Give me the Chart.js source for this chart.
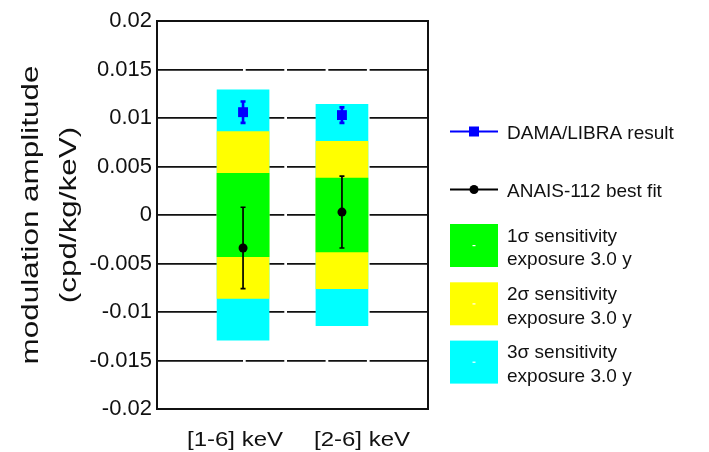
<!DOCTYPE html>
<html>
<head>
<meta charset="utf-8">
<script src="https://cdn.jsdelivr.net/npm/chart.js@4.4.1/dist/chart.umd.min.js"></script>
<style>
  html, body { margin: 0; padding: 0; background: #ffffff; }
  #wrap { width: 709px; height: 452px; }
</style>
</head>
<body>
<div id="wrap"><canvas id="chart" width="709" height="452"></canvas></div>
<script>
// Energy windows and their positions on the x scale
const categories = ['[1-6] keV', '[2-6] keV'];
const binPositions = [1, 2];

// ANAIS-112 sensitivity bands (half-widths), exposure 3.0 y
const sensitivity1 = [0.0043, 0.0038];
const sensitivity2 = [0.0086, 0.0076];
const sensitivity3 = [0.0129, 0.0114];

// ANAIS-112 best fit and its uncertainty
const anaisFit = [-0.0034, 0.0003];
const anaisErr = [0.0042, 0.0037];

// DAMA/LIBRA result and its uncertainty
const damaResult = [0.0106, 0.0103];
const damaErr = [0.0011, 0.0008];

// Vertical axis ticks
const yTicks = [0.02, 0.015, 0.01, 0.005, 0, -0.005, -0.01, -0.015, -0.02];

// Legend entries for the sensitivity bands
const bandLegend = [
  { color: '#00ff00', lines: ['1\u03c3 sensitivity', 'exposure 3.0 y'] },
  { color: '#ffff00', lines: ['2\u03c3 sensitivity', 'exposure 3.0 y'] },
  { color: '#00ffff', lines: ['3\u03c3 sensitivity', 'exposure 3.0 y'] }
];

const FONT = "'Liberation Sans', Arial, Helvetica, sans-serif";
const TEXT = '#111111';

function band(half) {
  return binPositions.map((x, i) => ({ x: x, y: [-half[i], half[i]] }));
}
function points(vals) {
  return binPositions.map((x, i) => ({ x: x, y: vals[i] }));
}

const bandStyle = { type: 'bar', grouped: false, barThickness: 52, borderWidth: 0 };

// Error bars, frame, axis title, category labels and legend
const decorations = {
  id: 'decorations',
  afterDatasetsDraw(chart) {
    const { ctx } = chart;
    const xs = chart.scales.x, ys = chart.scales.y;
    const drawErr = (vals, errs, color, width, cap) => {
      ctx.save();
      ctx.strokeStyle = color;
      ctx.lineWidth = width;
      binPositions.forEach((p, i) => {
        const x = xs.getPixelForValue(p);
        const y1 = ys.getPixelForValue(vals[i] + errs[i]);
        const y2 = ys.getPixelForValue(vals[i] - errs[i]);
        ctx.beginPath();
        ctx.moveTo(x, y1); ctx.lineTo(x, y2);
        ctx.moveTo(x - cap, y1); ctx.lineTo(x + cap, y1);
        ctx.moveTo(x - cap, y2); ctx.lineTo(x + cap, y2);
        ctx.stroke();
      });
      ctx.restore();
    };
    drawErr(anaisFit, anaisErr, '#000000', 1.7, 2.5);
    drawErr(damaResult, damaErr, '#0000ff', 2.6, 2.5);
  },
  afterDraw(chart) {
    const { ctx, chartArea: a } = chart;
    ctx.save();
    // plot frame
    ctx.strokeStyle = '#111111';
    ctx.lineWidth = 2;
    ctx.strokeRect(a.left, a.top, a.right - a.left, a.bottom - a.top);

    // vertical axis title (two lines)
    ctx.fillStyle = TEXT;
    ctx.textAlign = 'center';
    ctx.textBaseline = 'middle';
    ctx.font = '24px ' + FONT;
    const midY = (a.top + a.bottom) / 2;
    [['modulation amplitude', 31], ['(cpd/kg/keV)', 69]].forEach(([t, x]) => {
      ctx.save();
      ctx.translate(x, midY);
      ctx.rotate(-Math.PI / 2);
      ctx.scale(1.31, 1);
      ctx.fillText(t, 0, 0);
      ctx.restore();
    });

    // energy window labels
    ctx.font = '20px ' + FONT;
    ctx.textBaseline = 'alphabetic';
    const labelX = [a.left + 78, a.left + 205];
    categories.forEach((c, i) => {
      ctx.save();
      ctx.translate(labelX[i], a.bottom + 37);
      ctx.scale(1.2, 1);
      ctx.fillText(c, 0, 0);
      ctx.restore();
    });

    // legend
    const lx = a.right + 22, lw = 48, tx = a.right + 79;
    ctx.textAlign = 'left';
    ctx.font = '19px ' + FONT;
    // DAMA/LIBRA
    ctx.strokeStyle = '#0000ff'; ctx.lineWidth = 2;
    ctx.beginPath(); ctx.moveTo(lx, 131.5); ctx.lineTo(lx + lw, 131.5); ctx.stroke();
    ctx.fillStyle = '#0000ff';
    ctx.fillRect(lx + lw / 2 - 5, 126.5, 10, 10);
    ctx.fillStyle = TEXT;
    ctx.fillText('DAMA/LIBRA result', tx, 138.5);
    // ANAIS-112
    ctx.strokeStyle = '#000000';
    ctx.beginPath(); ctx.moveTo(lx, 189.5); ctx.lineTo(lx + lw, 189.5); ctx.stroke();
    ctx.fillStyle = '#000000';
    ctx.beginPath(); ctx.arc(lx + lw / 2, 189.5, 4.5, 0, Math.PI * 2); ctx.fill();
    ctx.fillStyle = TEXT;
    ctx.fillText('ANAIS-112 best fit', tx, 197);
    // bands
    bandLegend.forEach((b, i) => {
      const top = 224 + i * 58.3;
      ctx.fillStyle = b.color;
      ctx.fillRect(lx, top, lw, 43);
      ctx.fillStyle = '#ffffff';
      ctx.fillRect(lx + lw / 2 - 1.5, top + 21, 3, 1.2);
      ctx.fillStyle = TEXT;
      ctx.fillText(b.lines[0], tx, top + 17.8);
      ctx.fillText(b.lines[1], tx, top + 41.2);
    });
    ctx.restore();
  }
};

new Chart(document.getElementById('chart'), {
  type: 'bar',
  data: {
    datasets: [
      Object.assign({ label: '3\u03c3 sensitivity', data: band(sensitivity3), backgroundColor: '#00ffff', order: 5 }, bandStyle),
      Object.assign({ label: '2\u03c3 sensitivity', data: band(sensitivity2), backgroundColor: '#ffff00', order: 4 }, bandStyle),
      Object.assign({ label: '1\u03c3 sensitivity', data: band(sensitivity1), backgroundColor: '#00ff00', order: 3 }, bandStyle),
      {
        type: 'line', label: 'ANAIS-112 best fit', data: points(anaisFit), showLine: false,
        pointStyle: 'circle', pointRadius: 4.5, pointBackgroundColor: '#000000', pointBorderWidth: 0, order: 2
      },
      {
        type: 'line', label: 'DAMA/LIBRA result', data: points(damaResult), showLine: false,
        pointStyle: 'rect', pointRadius: 7, pointBackgroundColor: '#0000ff', pointBorderWidth: 0, order: 1
      }
    ]
  },
  options: {
    responsive: false,
    animation: false,
    devicePixelRatio: 1,
    layout: { padding: { left: 0, right: 281, top: 21, bottom: 43 } },
    plugins: { legend: { display: false }, tooltip: { enabled: false } },
    scales: {
      x: { type: 'linear', min: 0.13, max: 2.87, offset: false, display: false },
      y: {
        type: 'linear', min: -0.02, max: 0.02,
        afterFit(scale) { scale.width = 157; },
        afterBuildTicks(scale) { scale.ticks = yTicks.map(v => ({ value: v })); },
        ticks: {
          padding: 5,
          color: TEXT,
          font: { family: FONT, size: 22 },
          callback: v => String(+Number(v).toFixed(3))
        },
        grid: { color: '#111111', lineWidth: 1.8, drawTicks: false },
        border: { display: false, dash: [86, 2.7, 38.6, 2.7, 38.6, 2.7, 38.6, 2.7, 300] }
      }
    }
  },
  plugins: [decorations]
});
</script>
</body>
</html>
